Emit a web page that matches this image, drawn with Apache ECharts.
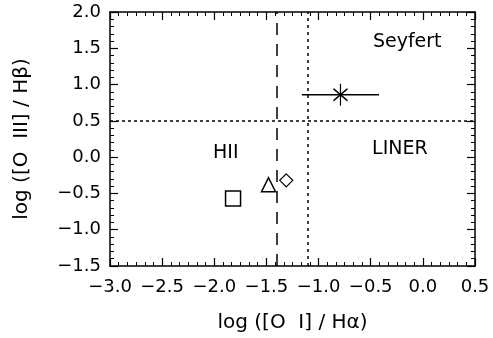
<!DOCTYPE html>
<html>
<head>
<meta charset="utf-8">
<script src="https://cdn.jsdelivr.net/npm/echarts@6/dist/echarts.min.js"></script>
<style>
  html, body { margin: 0; padding: 0; background: #fff; }
  #chart { width: 493px; height: 338px; }
</style>
</head>
<body>
<div id="chart"></div>
<script>
// Diagnostic diagram: log([O III]/Hβ) versus log([O I]/Hα)
const xRange = [-3.0, 0.5];
const yRange = [-1.5, 2.0];
const xTickLabels = ['-3.0', '-2.5', '-2.0', '-1.5', '-1.0', '-0.5', '0.0', '0.5'];
const yTickLabels = ['-1.5', '-1.0', '-0.5', '0.0', '0.5', '1.0', '1.5', '2.0'];

// individual objects
const squareX = [-1.82];
const squareY = [-0.57];
const triangleX = [-1.48];
const triangleY = [-0.38];
const diamondX = [-1.31];
const diamondY = [-0.32];
const starX = [-0.79];
const starY = [0.86];
const starXErr = [0.37];

// classification boundaries
const hiiBoundaryX = -1.4;   // dashed
const agnBoundaryX = -1.1;   // dotted
const seyfertLinerY = 0.5;   // dotted

// region names and where they sit
const regionNames = ['Seyfert', 'LINER', 'HII'];
const regionX = [-0.15, -0.22, -1.89];
const regionY = [1.59, 0.11, 0.06];

const FONT = 'DejaVu Sans';
const ink = '#000';

function tickText(list, v) {
  const s = list.find(t => Math.abs(parseFloat(t) - v) < 1e-6);
  return s ? s.replace('-', '\u2212') : '';
}

const axisCommon = {
  type: 'value',
  interval: 0.5,
  axisLine: { show: true, onZero: false, lineStyle: { color: ink, width: 1.5 } },
  axisTick: { show: true, inside: true, length: 8, lineStyle: { color: ink, width: 1.2 } },
  minorTick: { show: true, length: 4, lineStyle: { color: ink, width: 1 } },
  splitLine: { show: false },
  minorSplitLine: { show: false }
};

const chart = echarts.init(document.getElementById('chart'), null, { renderer: 'canvas' });

const regionData = regionNames.map((n, i) => ({ value: [regionX[i], regionY[i]], name: n }));
const errData = starX.map((x, i) => [[x - starXErr[i], starY[i]], [x + starXErr[i], starY[i]]]);

chart.setOption({
  animation: false,
  backgroundColor: '#fff',
  grid: { left: 110, right: 18, top: 12, bottom: 71, containLabel: false },
  xAxis: [
    Object.assign({}, axisCommon, {
      position: 'bottom', min: xRange[0], max: xRange[1],
      minorTick: Object.assign({}, axisCommon.minorTick, { splitNumber: 6 }),
      axisLabel: {
        color: ink, fontFamily: FONT, fontSize: 18, margin: 12,
        formatter: v => tickText(xTickLabels, v)
      },
      name: 'log ([O  I] / H\u03b1)',
      nameLocation: 'middle', nameGap: 47,
      nameTextStyle: { color: ink, fontFamily: FONT, fontSize: 20 }
    }),
    Object.assign({}, axisCommon, {
      position: 'top', min: xRange[0], max: xRange[1],
      minorTick: Object.assign({}, axisCommon.minorTick, { splitNumber: 6 }),
      axisLabel: { show: false }
    })
  ],
  yAxis: [
    Object.assign({}, axisCommon, {
      position: 'left', min: yRange[0], max: yRange[1],
      minorTick: Object.assign({}, axisCommon.minorTick, { splitNumber: 5 }),
      axisLabel: {
        color: ink, fontFamily: FONT, fontSize: 18, margin: 9,
        formatter: v => tickText(yTickLabels, v)
      },
      name: 'log ([O  III] / H\u03b2)',
      nameLocation: 'middle', nameGap: 78, nameRotate: 90,
      nameTextStyle: { color: ink, fontFamily: FONT, fontSize: 20 }
    }),
    Object.assign({}, axisCommon, {
      position: 'right', min: yRange[0], max: yRange[1],
      minorTick: Object.assign({}, axisCommon.minorTick, { splitNumber: 5 }),
      axisLabel: { show: false }
    })
  ],
  series: [
    {
      // boundary lines
      type: 'line', data: [], silent: true,
      markLine: {
        symbol: 'none', silent: true, label: { show: false },
        data: [
          { xAxis: hiiBoundaryX, lineStyle: { type: [12, 9], color: ink, width: 1.5 } },
          { xAxis: agnBoundaryX, lineStyle: { type: [3, 4], color: ink, width: 1.5 } },
          { yAxis: seyfertLinerY, lineStyle: { type: [3, 3], color: ink, width: 1.5 } }
        ]
      }
    },
    ...errData.map(seg => ({
      type: 'line', data: seg, symbol: 'none', silent: true,
      lineStyle: { color: ink, width: 1.5 }
    })),
    {
      type: 'scatter', data: squareX.map((x, i) => [x, squareY[i]]),
      symbol: 'rect', symbolSize: 15,
      itemStyle: { color: '#fff', borderColor: ink, borderWidth: 1.5, opacity: 1 }
    },
    {
      type: 'scatter', data: triangleX.map((x, i) => [x, triangleY[i]]),
      symbol: 'triangle', symbolSize: [14, 14],
      itemStyle: { color: '#fff', borderColor: ink, borderWidth: 1.5, opacity: 1 }
    },
    {
      type: 'scatter', data: diamondX.map((x, i) => [x, diamondY[i]]),
      symbol: 'diamond', symbolSize: [13, 13],
      itemStyle: { color: '#fff', borderColor: ink, borderWidth: 1.2, opacity: 1 }
    },
    {
      type: 'scatter', data: starX.map((x, i) => [x, starY[i]]),
      symbol: 'path://M7,0L7,22M0,5L14,17M0,17L14,5', symbolSize: [14, 22],
      itemStyle: { color: 'none', borderColor: ink, borderWidth: 1.5, opacity: 1 }
    },
    {
      type: 'scatter', data: regionData, symbol: 'circle', symbolSize: 1, silent: true,
      itemStyle: { color: 'rgba(0,0,0,0)', opacity: 1 },
      label: {
        show: true, position: 'inside', formatter: p => p.name,
        color: ink, fontFamily: FONT, fontSize: 19, textBorderWidth: 0, opacity: 1
      }
    }
  ]
});
</script>
</body>
</html>
